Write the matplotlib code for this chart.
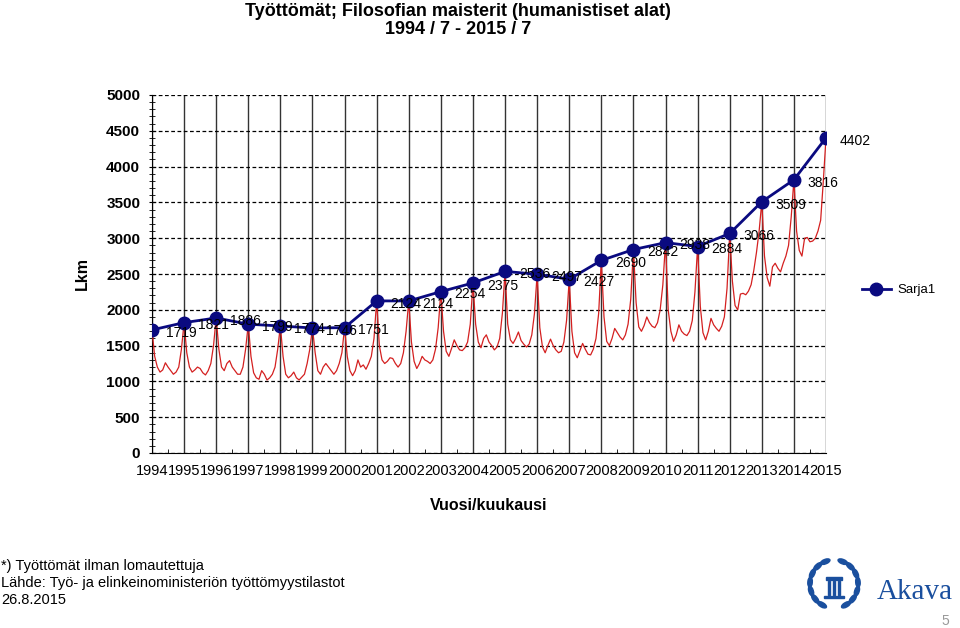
import matplotlib
matplotlib.use('Agg')
import matplotlib.pyplot as plt
from matplotlib import font_manager
from matplotlib.patches import Ellipse, Rectangle
import numpy as np

# ---------------- data ----------------
year_labels = ['1994', '1995', '1996', '1997', '1998', '1999', '2000', '2001',
               '2002', '2003', '2004', '2005', '2006', '2007', '2008', '2009',
               '2010', '2011', '2012', '2013', '2014', '2015']
july_values = [1719, 1821, 1886, 1799, 1774, 1746, 1751, 2124, 2124, 2254, 2375,
               2536, 2497, 2427, 2690, 2842, 2938, 2884, 3066, 3509, 3816, 4402]

# monthly values Aug..Jun between consecutive July values
s1994 = [1350, 1200, 1130, 1160, 1260, 1200, 1150, 1100, 1130, 1200, 1450]
s1995 = [1400, 1200, 1130, 1160, 1200, 1180, 1120, 1090, 1150, 1250, 1500]
s1996 = [1450, 1200, 1150, 1250, 1290, 1200, 1150, 1100, 1100, 1200, 1450]
s1997 = [1350, 1120, 1050, 1030, 1150, 1100, 1020, 1050, 1100, 1200, 1450]
s1998 = [1350, 1100, 1050, 1080, 1130, 1050, 1020, 1060, 1100, 1250, 1450]
s1999 = [1400, 1150, 1100, 1200, 1250, 1200, 1150, 1100, 1150, 1250, 1400]
s2000 = [1350, 1150, 1080, 1150, 1300, 1200, 1230, 1170, 1250, 1350, 1600]
s2001 = [1500, 1300, 1250, 1280, 1330, 1320, 1250, 1200, 1250, 1400, 1700]
s2002 = [1550, 1280, 1180, 1250, 1350, 1300, 1280, 1250, 1300, 1450, 1750]
s2003 = [1700, 1420, 1350, 1460, 1580, 1500, 1440, 1430, 1470, 1550, 1800]
s2004 = [1800, 1550, 1470, 1600, 1650, 1550, 1500, 1440, 1480, 1600, 1950]
s2005 = [1800, 1580, 1530, 1600, 1690, 1570, 1520, 1480, 1520, 1650, 1950]
s2006 = [1750, 1480, 1400, 1500, 1590, 1500, 1440, 1400, 1420, 1550, 1850]
s2007 = [1700, 1400, 1330, 1430, 1530, 1450, 1380, 1370, 1450, 1600, 1950]
s2008 = [1900, 1560, 1500, 1600, 1740, 1680, 1620, 1580, 1650, 1800, 2150]
s2009 = [2100, 1760, 1700, 1780, 1900, 1820, 1770, 1750, 1820, 2000, 2350]
s2010 = [2000, 1700, 1560, 1650, 1790, 1700, 1660, 1640, 1700, 1850, 2250]
s2011 = [2050, 1680, 1580, 1700, 1880, 1790, 1740, 1700, 1770, 1900, 2300]
s2012 = [2400, 2060, 2000, 2220, 2230, 2210, 2260, 2350, 2550, 2800, 3100]
s2013 = [2750, 2450, 2330, 2600, 2650, 2580, 2530, 2650, 2750, 2900, 3300]
s2014 = [3100, 2830, 2750, 3000, 3010, 2950, 2960, 3000, 3100, 3250, 3800]
seasons = [s1994, s1995, s1996, s1997, s1998, s1999, s2000, s2001, s2002, s2003,
           s2004, s2005, s2006, s2007, s2008, s2009, s2010, s2011, s2012, s2013, s2014]

title1 = 'Työttömät; Filosofian maisterit (humanistiset alat)'
title2 = '1994 / 7 - 2015 / 7'
footer = ['*) Työttömät ilman lomautettuja',
          'Lähde: Työ- ja elinkeinoministeriön työttömyystilastot',
          '26.8.2015']

# ---------------- fonts ----------------
def have(name):
    try:
        font_manager.findfont(name, fallback_to_default=False)
        return True
    except Exception:
        return False

base = 'Liberation Sans'
narrow = 'Liberation Sans Narrow' if have('Liberation Sans Narrow') else base
plt.rcParams['font.family'] = [base, 'DejaVu Sans']

# ---------------- build monthly series ----------------
mx, my = [], []
for i, s in enumerate(seasons):
    mx.append(i)
    my.append(july_values[i])
    for m, v in enumerate(s):
        mx.append(i + (m + 1) / 12.0)
        my.append(v)
mx.append(len(seasons))
my.append(july_values[-1])

W, H = 960, 628
fig = plt.figure(figsize=(W / 100, H / 100), dpi=100)
ax = fig.add_axes([152 / W, 1 - 453 / H, (826 - 152) / W, (453 - 95) / H])

xpos = np.arange(len(july_values))
ax.plot(mx, my, color='#d42020', lw=0.9, zorder=3)
ax.plot(xpos, july_values, color='#0a0a80', lw=2.0, marker='o', ms=9,
        mfc='#0a0a80', mec='#0a0a80', zorder=4, label='Sarja1')

for x, v in zip(xpos, july_values):
    ax.annotate(str(v), (x, v), xytext=(10, -2), textcoords='offset points',
                ha='left', va='center', fontsize=10, color='black',
                family=[base], zorder=5)

ax.set_xlim(0, 21)
ax.set_ylim(0, 5000)
ax.set_yticks(np.arange(0, 5001, 500))
ax.set_yticklabels([str(v) for v in range(0, 5001, 500)], fontsize=11,
                   fontweight='bold')
ax.set_yticks(np.arange(0, 5001, 100), minor=True)
ax.set_xticks(xpos)
ax.set_xticklabels(year_labels, fontsize=10.5, family=[narrow])
ax.set_xticks(xpos[:-1] + 0.5, minor=True)

ax.grid(axis='y', which='major', color='black', ls=(0, (3, 2)), lw=0.9)
ax.grid(axis='x', which='major', color='#333333', ls='-', lw=1.0)
ax.tick_params(axis='y', which='major', length=5, direction='inout', pad=6)
ax.tick_params(axis='y', which='minor', length=4, direction='inout')
ax.tick_params(axis='x', which='major', length=0, pad=8)
ax.tick_params(axis='x', which='minor', length=3, direction='in')
for sp in ['top', 'right']:
    ax.spines[sp].set_visible(False)
ax.spines['left'].set_color('black')
ax.spines['bottom'].set_color('black')
ax.set_axisbelow(True)

ax.set_ylabel('Lkm', fontsize=11.5, fontweight='bold', labelpad=12)
ax.set_xlabel('Vuosi/kuukausi', fontsize=11.5, fontweight='bold', labelpad=14)

fig.legend(loc='center left', bbox_to_anchor=(850 / W, 1 - 290 / H), frameon=False,
           fontsize=9.5, handlelength=2.2, handletextpad=0.5)

fig.text(458 / W, 1 - 12 / H, title1, ha='center', va='center', fontsize=13,
         fontweight='bold', family=[narrow])
fig.text(458 / W, 1 - 30 / H, title2, ha='center', va='center', fontsize=13,
         fontweight='bold', family=[narrow])

for k, line in enumerate(footer):
    fig.text(1 / W, 1 - (566 + 17 * k) / H, line, ha='left', va='center',
             fontsize=10.5, family=[narrow])

fig.text(945 / W, 1 - 621 / H, '5', ha='center', va='center', fontsize=10,
         color='#999999')

# simple Akava logo
blue = '#1a4f9e'
lax = fig.add_axes([800 / W, 1 - 618 / H, 68 / W, 68 / H])
lax.set_xlim(-34, 34)
lax.set_ylim(-34, 34)
lax.axis('off')
for ang in np.linspace(-60, 240, 15):
    if 75 < ang < 105:
        continue
    r = 24
    a = np.radians(ang)
    lax.add_patch(Ellipse((r * np.cos(a), r * np.sin(a)), 10, 4.5,
                          angle=ang + 90, color=blue))
lax.add_patch(Rectangle((-8, 4), 16, 3, color=blue))
lax.add_patch(Rectangle((-10, -14), 20, 2.5, color=blue))
for xx in (-5, 0, 5):
    lax.add_patch(Rectangle((xx - 1.2, -11), 2.4, 14, color=blue))
fig.text(915 / W, 1 - 592 / H, 'Akava', ha='center', va='center', fontsize=21,
         color=blue, family=['Liberation Serif', 'DejaVu Serif'])

fig.savefig('out.png', dpi=100)
